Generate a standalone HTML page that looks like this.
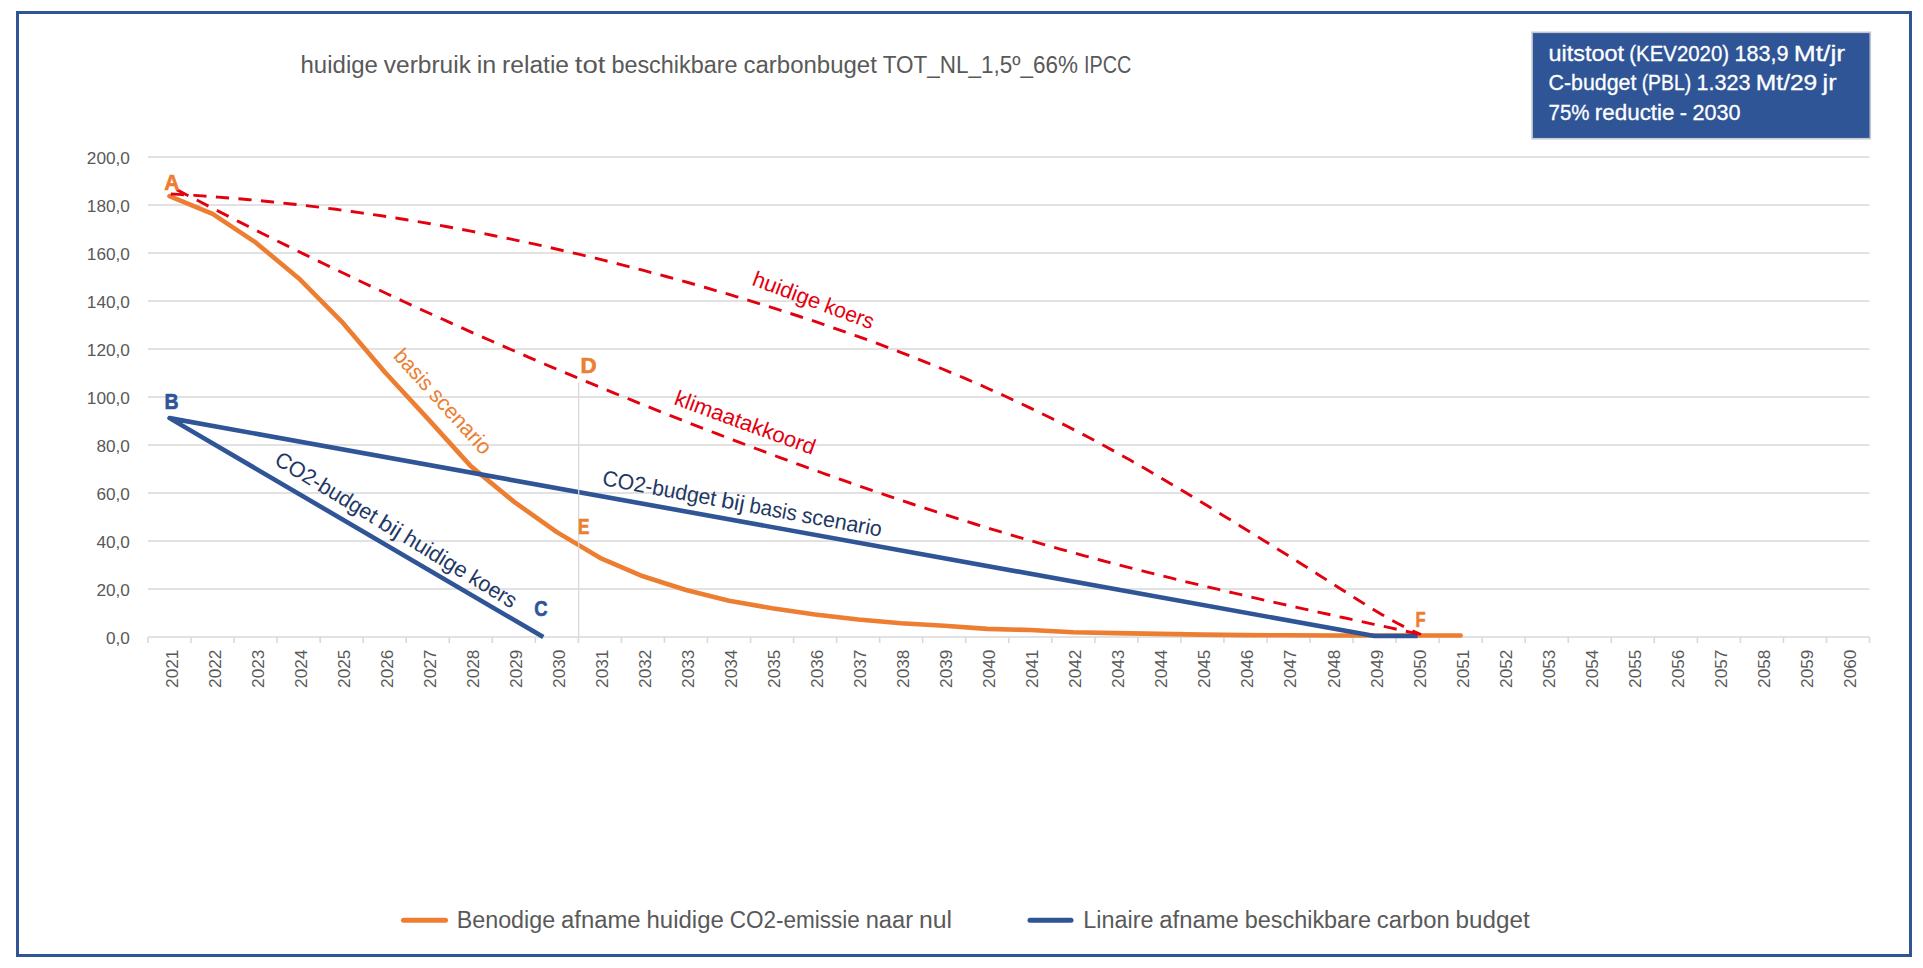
<!DOCTYPE html>
<html lang="nl"><head><meta charset="utf-8"><title>huidige verbruik in relatie tot beschikbare carbonbuget</title>
<style>
html,body{margin:0;padding:0;background:#fff;}
body{width:1923px;height:968px;overflow:hidden;font-family:"Liberation Sans", sans-serif;}
svg{display:block;}
svg text{font-family:"Liberation Sans", sans-serif;}
</style></head><body>
<svg width="1923" height="968" viewBox="0 0 1923 968">
<rect x="0" y="0" width="1923" height="968" fill="#ffffff"/>
<rect x="17.5" y="12.5" width="1893" height="943" fill="#ffffff" stroke="#2F5597" stroke-width="3"/>

<g stroke="#D9D9D9" stroke-width="1.6" fill="none">
<line x1="148.0" y1="637.0" x2="1869.5" y2="637.0"/>
<line x1="148.0" y1="589.0" x2="1869.5" y2="589.0"/>
<line x1="148.0" y1="541.0" x2="1869.5" y2="541.0"/>
<line x1="148.0" y1="493.0" x2="1869.5" y2="493.0"/>
<line x1="148.0" y1="445.0" x2="1869.5" y2="445.0"/>
<line x1="148.0" y1="397.0" x2="1869.5" y2="397.0"/>
<line x1="148.0" y1="349.0" x2="1869.5" y2="349.0"/>
<line x1="148.0" y1="301.0" x2="1869.5" y2="301.0"/>
<line x1="148.0" y1="253.0" x2="1869.5" y2="253.0"/>
<line x1="148.0" y1="205.0" x2="1869.5" y2="205.0"/>
<line x1="148.0" y1="157.0" x2="1869.5" y2="157.0"/>
<line x1="148.00" y1="637.0" x2="148.00" y2="643.0"/>
<line x1="191.04" y1="637.0" x2="191.04" y2="643.0"/>
<line x1="234.07" y1="637.0" x2="234.07" y2="643.0"/>
<line x1="277.11" y1="637.0" x2="277.11" y2="643.0"/>
<line x1="320.15" y1="637.0" x2="320.15" y2="643.0"/>
<line x1="363.19" y1="637.0" x2="363.19" y2="643.0"/>
<line x1="406.23" y1="637.0" x2="406.23" y2="643.0"/>
<line x1="449.26" y1="637.0" x2="449.26" y2="643.0"/>
<line x1="492.30" y1="637.0" x2="492.30" y2="643.0"/>
<line x1="535.34" y1="637.0" x2="535.34" y2="643.0"/>
<line x1="578.38" y1="637.0" x2="578.38" y2="643.0"/>
<line x1="621.41" y1="637.0" x2="621.41" y2="643.0"/>
<line x1="664.45" y1="637.0" x2="664.45" y2="643.0"/>
<line x1="707.49" y1="637.0" x2="707.49" y2="643.0"/>
<line x1="750.52" y1="637.0" x2="750.52" y2="643.0"/>
<line x1="793.56" y1="637.0" x2="793.56" y2="643.0"/>
<line x1="836.60" y1="637.0" x2="836.60" y2="643.0"/>
<line x1="879.64" y1="637.0" x2="879.64" y2="643.0"/>
<line x1="922.68" y1="637.0" x2="922.68" y2="643.0"/>
<line x1="965.71" y1="637.0" x2="965.71" y2="643.0"/>
<line x1="1008.75" y1="637.0" x2="1008.75" y2="643.0"/>
<line x1="1051.79" y1="637.0" x2="1051.79" y2="643.0"/>
<line x1="1094.83" y1="637.0" x2="1094.83" y2="643.0"/>
<line x1="1137.86" y1="637.0" x2="1137.86" y2="643.0"/>
<line x1="1180.90" y1="637.0" x2="1180.90" y2="643.0"/>
<line x1="1223.94" y1="637.0" x2="1223.94" y2="643.0"/>
<line x1="1266.98" y1="637.0" x2="1266.98" y2="643.0"/>
<line x1="1310.01" y1="637.0" x2="1310.01" y2="643.0"/>
<line x1="1353.05" y1="637.0" x2="1353.05" y2="643.0"/>
<line x1="1396.09" y1="637.0" x2="1396.09" y2="643.0"/>
<line x1="1439.12" y1="637.0" x2="1439.12" y2="643.0"/>
<line x1="1482.16" y1="637.0" x2="1482.16" y2="643.0"/>
<line x1="1525.20" y1="637.0" x2="1525.20" y2="643.0"/>
<line x1="1568.24" y1="637.0" x2="1568.24" y2="643.0"/>
<line x1="1611.28" y1="637.0" x2="1611.28" y2="643.0"/>
<line x1="1654.31" y1="637.0" x2="1654.31" y2="643.0"/>
<line x1="1697.35" y1="637.0" x2="1697.35" y2="643.0"/>
<line x1="1740.39" y1="637.0" x2="1740.39" y2="643.0"/>
<line x1="1783.42" y1="637.0" x2="1783.42" y2="643.0"/>
<line x1="1826.46" y1="637.0" x2="1826.46" y2="643.0"/>
<line x1="1869.50" y1="637.0" x2="1869.50" y2="643.0"/>
</g>
<text x="106.03" y="643.8" fill="#595959" font-size="17.01" textLength="23.87" lengthAdjust="spacingAndGlyphs">0,0</text>
<text x="96.45" y="595.8" fill="#595959" font-size="17.01" textLength="33.45" lengthAdjust="spacingAndGlyphs">20,0</text>
<text x="96.45" y="547.8" fill="#595959" font-size="17.01" textLength="33.45" lengthAdjust="spacingAndGlyphs">40,0</text>
<text x="96.45" y="499.8" fill="#595959" font-size="17.01" textLength="33.45" lengthAdjust="spacingAndGlyphs">60,0</text>
<text x="96.45" y="451.8" fill="#595959" font-size="17.01" textLength="33.45" lengthAdjust="spacingAndGlyphs">80,0</text>
<text x="86.87" y="403.8" fill="#595959" font-size="17.01" textLength="43.03" lengthAdjust="spacingAndGlyphs">100,0</text>
<text x="86.87" y="355.8" fill="#595959" font-size="17.01" textLength="43.03" lengthAdjust="spacingAndGlyphs">120,0</text>
<text x="86.87" y="307.8" fill="#595959" font-size="17.01" textLength="43.03" lengthAdjust="spacingAndGlyphs">140,0</text>
<text x="86.87" y="259.8" fill="#595959" font-size="17.01" textLength="43.03" lengthAdjust="spacingAndGlyphs">160,0</text>
<text x="86.87" y="211.8" fill="#595959" font-size="17.01" textLength="43.03" lengthAdjust="spacingAndGlyphs">180,0</text>
<text x="86.87" y="163.8" fill="#595959" font-size="17.01" textLength="43.03" lengthAdjust="spacingAndGlyphs">200,0</text>
<text transform="translate(177.52,687.92) rotate(-90)" fill="#595959" font-size="17.39" textLength="38.32" lengthAdjust="spacingAndGlyphs">2021</text>
<text transform="translate(220.56,687.92) rotate(-90)" fill="#595959" font-size="17.39" textLength="38.32" lengthAdjust="spacingAndGlyphs">2022</text>
<text transform="translate(263.59,687.92) rotate(-90)" fill="#595959" font-size="17.39" textLength="38.32" lengthAdjust="spacingAndGlyphs">2023</text>
<text transform="translate(306.63,687.92) rotate(-90)" fill="#595959" font-size="17.39" textLength="38.32" lengthAdjust="spacingAndGlyphs">2024</text>
<text transform="translate(349.67,687.92) rotate(-90)" fill="#595959" font-size="17.39" textLength="38.32" lengthAdjust="spacingAndGlyphs">2025</text>
<text transform="translate(392.71,687.92) rotate(-90)" fill="#595959" font-size="17.39" textLength="38.32" lengthAdjust="spacingAndGlyphs">2026</text>
<text transform="translate(435.74,687.92) rotate(-90)" fill="#595959" font-size="17.39" textLength="38.32" lengthAdjust="spacingAndGlyphs">2027</text>
<text transform="translate(478.78,687.92) rotate(-90)" fill="#595959" font-size="17.39" textLength="38.32" lengthAdjust="spacingAndGlyphs">2028</text>
<text transform="translate(521.82,687.92) rotate(-90)" fill="#595959" font-size="17.39" textLength="38.32" lengthAdjust="spacingAndGlyphs">2029</text>
<text transform="translate(564.86,687.92) rotate(-90)" fill="#595959" font-size="17.39" textLength="38.32" lengthAdjust="spacingAndGlyphs">2030</text>
<text transform="translate(607.89,687.92) rotate(-90)" fill="#595959" font-size="17.39" textLength="38.32" lengthAdjust="spacingAndGlyphs">2031</text>
<text transform="translate(650.93,687.92) rotate(-90)" fill="#595959" font-size="17.39" textLength="38.32" lengthAdjust="spacingAndGlyphs">2032</text>
<text transform="translate(693.97,687.92) rotate(-90)" fill="#595959" font-size="17.39" textLength="38.32" lengthAdjust="spacingAndGlyphs">2033</text>
<text transform="translate(737.01,687.92) rotate(-90)" fill="#595959" font-size="17.39" textLength="38.32" lengthAdjust="spacingAndGlyphs">2034</text>
<text transform="translate(780.04,687.92) rotate(-90)" fill="#595959" font-size="17.39" textLength="38.32" lengthAdjust="spacingAndGlyphs">2035</text>
<text transform="translate(823.08,687.92) rotate(-90)" fill="#595959" font-size="17.39" textLength="38.32" lengthAdjust="spacingAndGlyphs">2036</text>
<text transform="translate(866.12,687.92) rotate(-90)" fill="#595959" font-size="17.39" textLength="38.32" lengthAdjust="spacingAndGlyphs">2037</text>
<text transform="translate(909.16,687.92) rotate(-90)" fill="#595959" font-size="17.39" textLength="38.32" lengthAdjust="spacingAndGlyphs">2038</text>
<text transform="translate(952.19,687.92) rotate(-90)" fill="#595959" font-size="17.39" textLength="38.32" lengthAdjust="spacingAndGlyphs">2039</text>
<text transform="translate(995.23,687.92) rotate(-90)" fill="#595959" font-size="17.39" textLength="38.32" lengthAdjust="spacingAndGlyphs">2040</text>
<text transform="translate(1038.27,687.92) rotate(-90)" fill="#595959" font-size="17.39" textLength="38.32" lengthAdjust="spacingAndGlyphs">2041</text>
<text transform="translate(1081.31,687.92) rotate(-90)" fill="#595959" font-size="17.39" textLength="38.32" lengthAdjust="spacingAndGlyphs">2042</text>
<text transform="translate(1124.34,687.92) rotate(-90)" fill="#595959" font-size="17.39" textLength="38.32" lengthAdjust="spacingAndGlyphs">2043</text>
<text transform="translate(1167.38,687.92) rotate(-90)" fill="#595959" font-size="17.39" textLength="38.32" lengthAdjust="spacingAndGlyphs">2044</text>
<text transform="translate(1210.42,687.92) rotate(-90)" fill="#595959" font-size="17.39" textLength="38.32" lengthAdjust="spacingAndGlyphs">2045</text>
<text transform="translate(1253.46,687.92) rotate(-90)" fill="#595959" font-size="17.39" textLength="38.32" lengthAdjust="spacingAndGlyphs">2046</text>
<text transform="translate(1296.49,687.92) rotate(-90)" fill="#595959" font-size="17.39" textLength="38.32" lengthAdjust="spacingAndGlyphs">2047</text>
<text transform="translate(1339.53,687.92) rotate(-90)" fill="#595959" font-size="17.39" textLength="38.32" lengthAdjust="spacingAndGlyphs">2048</text>
<text transform="translate(1382.57,687.92) rotate(-90)" fill="#595959" font-size="17.39" textLength="38.32" lengthAdjust="spacingAndGlyphs">2049</text>
<text transform="translate(1425.61,687.92) rotate(-90)" fill="#595959" font-size="17.39" textLength="38.32" lengthAdjust="spacingAndGlyphs">2050</text>
<text transform="translate(1468.64,687.92) rotate(-90)" fill="#595959" font-size="17.39" textLength="38.32" lengthAdjust="spacingAndGlyphs">2051</text>
<text transform="translate(1511.68,687.92) rotate(-90)" fill="#595959" font-size="17.39" textLength="38.32" lengthAdjust="spacingAndGlyphs">2052</text>
<text transform="translate(1554.72,687.92) rotate(-90)" fill="#595959" font-size="17.39" textLength="38.32" lengthAdjust="spacingAndGlyphs">2053</text>
<text transform="translate(1597.76,687.92) rotate(-90)" fill="#595959" font-size="17.39" textLength="38.32" lengthAdjust="spacingAndGlyphs">2054</text>
<text transform="translate(1640.79,687.92) rotate(-90)" fill="#595959" font-size="17.39" textLength="38.32" lengthAdjust="spacingAndGlyphs">2055</text>
<text transform="translate(1683.83,687.92) rotate(-90)" fill="#595959" font-size="17.39" textLength="38.32" lengthAdjust="spacingAndGlyphs">2056</text>
<text transform="translate(1726.87,687.92) rotate(-90)" fill="#595959" font-size="17.39" textLength="38.32" lengthAdjust="spacingAndGlyphs">2057</text>
<text transform="translate(1769.91,687.92) rotate(-90)" fill="#595959" font-size="17.39" textLength="38.32" lengthAdjust="spacingAndGlyphs">2058</text>
<text transform="translate(1812.94,687.92) rotate(-90)" fill="#595959" font-size="17.39" textLength="38.32" lengthAdjust="spacingAndGlyphs">2059</text>
<text transform="translate(1855.98,687.92) rotate(-90)" fill="#595959" font-size="17.39" textLength="38.32" lengthAdjust="spacingAndGlyphs">2060</text>
<polyline points="169.52,196.12 212.56,213.88 255.59,242.44 298.63,278.20 341.67,321.52 384.71,372.04 427.74,418.60 470.78,466.12 513.82,501.64 556.86,532.12 599.89,557.80 642.93,576.28 685.97,589.96 729.01,600.76 772.04,608.20 815.08,614.44 858.12,619.48 901.16,623.32 944.19,625.72 987.23,628.84 1030.27,630.04 1073.31,632.20 1116.34,633.16 1159.38,633.88 1202.42,634.60 1245.46,635.08 1288.49,635.32 1331.53,635.56 1374.57,635.56 1417.61,635.56 1460.64,635.56" fill="none" stroke="#ED7D31" stroke-width="4.6" stroke-linejoin="round" stroke-linecap="round"/>
<polyline points="543.3,637.1 169.52,418.12 1374.57,636.04 1417.61,636.04" fill="none" stroke="#2F5597" stroke-width="4.6" stroke-linejoin="round" stroke-linecap="butt"/>
<path d="M170.8,194.0 L178.7,194.4 L186.5,194.9 L194.4,195.4 L202.3,195.9 L210.1,196.5 L218.0,197.1 L225.8,197.7 L233.7,198.3 L241.6,199.0 L249.4,199.7 L257.3,200.4 L265.2,201.2 L273.0,202.0 L280.9,202.8 L288.7,203.7 L296.6,204.5 L304.5,205.4 L312.3,206.4 L320.2,207.3 L328.1,208.3 L335.9,209.3 L343.8,210.4 L351.6,211.5 L359.5,212.6 L367.4,213.7 L375.2,214.9 L383.1,216.0 L391.0,217.2 L398.8,218.5 L406.7,219.8 L414.5,221.1 L422.4,222.4 L430.3,223.7 L438.1,225.1 L446.0,226.5 L453.9,227.9 L461.7,229.4 L469.6,230.9 L477.5,232.4 L485.3,233.9 L493.2,235.5 L501.0,237.1 L508.9,238.7 L516.8,240.4 L524.6,242.0 L532.5,243.7 L540.4,245.4 L548.2,247.2 L556.1,249.0 L563.9,250.8 L571.8,252.6 L579.7,254.4 L587.5,256.3 L595.4,258.2 L603.3,260.2 L611.1,262.1 L619.0,264.1 L626.8,266.1 L634.7,268.1 L642.6,270.2 L650.4,272.3 L658.3,274.4 L666.2,276.5 L674.0,278.7 L681.9,280.8 L689.8,283.0 L697.6,285.3 L705.5,287.5 L713.3,289.8 L721.2,292.1 L729.1,294.4 L736.9,296.8 L744.8,299.2 L752.7,301.6 L760.5,304.0 L768.4,306.4 L776.2,308.9 L784.1,311.4 L792.0,314.0 L799.8,316.5 L807.7,319.1 L815.6,321.7 L823.4,324.4 L831.3,327.1 L839.1,329.8 L847.0,332.6 L854.9,335.4 L862.7,338.2 L870.6,341.0 L878.5,343.9 L886.3,346.9 L894.2,349.8 L902.0,352.9 L909.9,355.9 L917.8,359.0 L925.6,362.1 L933.5,365.3 L941.4,368.5 L949.2,371.8 L957.1,375.1 L965.0,378.4 L972.8,381.8 L980.7,385.2 L988.5,388.7 L996.4,392.2 L1004.3,395.8 L1012.1,399.5 L1020.0,403.1 L1027.9,406.9 L1035.7,410.6 L1043.6,414.5 L1051.4,418.3 L1059.3,422.3 L1067.2,426.3 L1075.0,430.3 L1082.9,434.4 L1090.8,438.5 L1098.6,442.8 L1106.5,447.0 L1114.3,451.3 L1122.2,455.7 L1130.1,460.1 L1137.9,464.6 L1145.8,469.1 L1153.7,473.7 L1161.5,478.3 L1169.4,483.0 L1177.3,487.6 L1185.1,492.3 L1193.0,497.1 L1200.8,501.8 L1208.7,506.6 L1216.6,511.4 L1224.4,516.2 L1232.3,521.0 L1240.2,525.9 L1248.0,530.7 L1255.9,535.6 L1263.7,540.4 L1271.6,545.3 L1279.5,550.2 L1287.3,555.1 L1295.2,560.0 L1303.1,564.9 L1310.9,569.9 L1318.8,574.9 L1326.6,579.9 L1334.5,584.9 L1342.4,590.0 L1350.2,595.0 L1358.1,600.0 L1366.0,604.9 L1373.8,609.7 L1381.7,614.4 L1389.5,618.9 L1397.4,623.2 L1405.3,627.3 L1413.1,631.1 L1421.0,634.5" fill="none" stroke="#E3000F" stroke-width="2.9" stroke-dasharray="13.2 9.4"/>
<path d="M176.7,189.6 L184.5,193.7 L192.4,197.8 L200.2,201.8 L208.0,205.9 L215.8,209.9 L223.7,213.9 L231.5,217.9 L239.3,221.9 L247.1,225.8 L255.0,229.8 L262.8,233.7 L270.6,237.6 L278.4,241.5 L286.3,245.4 L294.1,249.2 L301.9,253.1 L309.7,256.9 L317.6,260.7 L325.4,264.5 L333.2,268.3 L341.0,272.0 L348.9,275.8 L356.7,279.5 L364.5,283.2 L372.3,286.9 L380.2,290.5 L388.0,294.2 L395.8,297.8 L403.6,301.5 L411.5,305.1 L419.3,308.7 L427.1,312.2 L435.0,315.8 L442.8,319.3 L450.6,322.9 L458.4,326.4 L466.3,329.9 L474.1,333.4 L481.9,336.8 L489.7,340.3 L497.6,343.7 L505.4,347.1 L513.2,350.5 L521.0,353.9 L528.9,357.3 L536.7,360.6 L544.5,364.0 L552.3,367.3 L560.2,370.6 L568.0,373.9 L575.8,377.2 L583.6,380.4 L591.5,383.7 L599.3,386.9 L607.1,390.1 L614.9,393.4 L622.8,396.5 L630.6,399.7 L638.4,402.9 L646.2,406.0 L654.1,409.1 L661.9,412.3 L669.7,415.4 L677.6,418.4 L685.4,421.5 L693.2,424.6 L701.0,427.6 L708.9,430.6 L716.7,433.7 L724.5,436.7 L732.3,439.6 L740.2,442.6 L748.0,445.6 L755.8,448.5 L763.6,451.4 L771.5,454.4 L779.3,457.3 L787.1,460.1 L794.9,463.0 L802.8,465.9 L810.6,468.7 L818.4,471.5 L826.2,474.3 L834.1,477.1 L841.9,479.9 L849.7,482.7 L857.5,485.4 L865.4,488.1 L873.2,490.8 L881.0,493.5 L888.8,496.1 L896.7,498.8 L904.5,501.4 L912.3,504.0 L920.1,506.6 L928.0,509.1 L935.8,511.7 L943.6,514.2 L951.5,516.7 L959.3,519.2 L967.1,521.6 L974.9,524.0 L982.8,526.5 L990.6,528.8 L998.4,531.2 L1006.2,533.5 L1014.1,535.9 L1021.9,538.2 L1029.7,540.4 L1037.5,542.7 L1045.4,544.9 L1053.2,547.2 L1061.0,549.3 L1068.8,551.5 L1076.7,553.7 L1084.5,555.8 L1092.3,557.9 L1100.1,560.0 L1108.0,562.1 L1115.8,564.1 L1123.6,566.1 L1131.4,568.1 L1139.3,570.1 L1147.1,572.1 L1154.9,574.1 L1162.7,576.0 L1170.6,577.9 L1178.4,579.9 L1186.2,581.8 L1194.1,583.6 L1201.9,585.5 L1209.7,587.4 L1217.5,589.2 L1225.4,591.1 L1233.2,592.9 L1241.0,594.7 L1248.8,596.5 L1256.7,598.3 L1264.5,600.1 L1272.3,601.8 L1280.1,603.6 L1288.0,605.4 L1295.8,607.1 L1303.6,608.8 L1311.4,610.6 L1319.3,612.3 L1327.1,614.0 L1334.9,615.8 L1342.7,617.5 L1350.6,619.2 L1358.4,620.9 L1366.2,622.6 L1374.0,624.3 L1381.9,626.0 L1389.7,627.7 L1397.5,629.4 L1405.3,631.1 L1413.2,632.8 L1421.0,634.5" fill="none" stroke="#E3000F" stroke-width="2.9" stroke-dasharray="13.2 9.4"/>
<line x1="578.7" y1="382.3" x2="578.7" y2="637.0" stroke="#D6D6D6" stroke-width="1.2"/>
<text transform="translate(164.17,189.8) scale(0.989,1)" fill="#ED7D31" stroke="#ED7D31" stroke-width="0.6" font-size="21.4" font-weight="bold">A</text>
<text transform="translate(164.49,409.3) scale(0.912,1)" fill="#2F5597" stroke="#2F5597" stroke-width="0.6" font-size="21.4" font-weight="bold">B</text>
<text transform="translate(534.14,615.6) scale(0.865,1)" fill="#2F5597" stroke="#2F5597" stroke-width="0.6" font-size="21.4" font-weight="bold">C</text>
<text transform="translate(580.61,373.2) scale(1.044,1)" fill="#ED7D31" stroke="#ED7D31" stroke-width="0.6" font-size="21.4" font-weight="bold">D</text>
<text transform="translate(577.90,533.8) scale(0.804,1)" fill="#ED7D31" stroke="#ED7D31" stroke-width="0.6" font-size="21.4" font-weight="bold">E</text>
<text transform="translate(1415.49,626.5) scale(0.774,1)" fill="#ED7D31" stroke="#ED7D31" stroke-width="0.6" font-size="21.4" font-weight="bold">F</text>
<text transform="translate(392.4,356.7) rotate(47.8)" fill="#ED7D31" font-size="21.80"><tspan x="0.00" textLength="47.78" lengthAdjust="spacingAndGlyphs">basis</tspan> <tspan x="53.14" textLength="81.09" lengthAdjust="spacingAndGlyphs">scenario</tspan></text>
<text transform="translate(273.2,463.4) rotate(31.4)" fill="#1F3864" font-size="21.93"><tspan x="0.00" textLength="116.00" lengthAdjust="spacingAndGlyphs">CO2-budget</tspan> <tspan x="121.39" textLength="23.70" lengthAdjust="spacingAndGlyphs">bij</tspan> <tspan x="150.48" textLength="71.41" lengthAdjust="spacingAndGlyphs">huidige</tspan> <tspan x="227.28" textLength="51.70" lengthAdjust="spacingAndGlyphs">koers</tspan></text>
<text transform="translate(601.5,485) rotate(10.5)" fill="#1F3864" font-size="21.80"><tspan x="0.00" textLength="115.31" lengthAdjust="spacingAndGlyphs">CO2-budget</tspan> <tspan x="120.66" textLength="23.56" lengthAdjust="spacingAndGlyphs">bij</tspan> <tspan x="149.58" textLength="47.78" lengthAdjust="spacingAndGlyphs">basis</tspan> <tspan x="202.72" textLength="81.09" lengthAdjust="spacingAndGlyphs">scenario</tspan></text>
<text transform="translate(751.1,284.8) rotate(20.4)" fill="#E3000F" font-size="21.80"><tspan x="0.00" textLength="70.98" lengthAdjust="spacingAndGlyphs">huidige</tspan> <tspan x="76.34" textLength="51.39" lengthAdjust="spacingAndGlyphs">koers</tspan></text>
<text transform="translate(673,404) rotate(20.1)" fill="#E3000F" font-size="21.80"><tspan x="0.00" textLength="148.21" lengthAdjust="spacingAndGlyphs">klimaatakkoord</tspan></text>
<text transform="translate(300.5,72.9)" fill="#595959" font-size="23.78"><tspan x="0.00" textLength="77.42" lengthAdjust="spacingAndGlyphs">huidige</tspan> <tspan x="83.27" textLength="87.16" lengthAdjust="spacingAndGlyphs">verbruik</tspan> <tspan x="176.27" textLength="19.51" lengthAdjust="spacingAndGlyphs">in</tspan> <tspan x="201.63" textLength="66.87" lengthAdjust="spacingAndGlyphs">relatie</tspan> <tspan x="274.34" textLength="30.70" lengthAdjust="spacingAndGlyphs">tot</tspan> <tspan x="310.88" textLength="126.25" lengthAdjust="spacingAndGlyphs">beschikbare</tspan> <tspan x="442.97" textLength="133.40" lengthAdjust="spacingAndGlyphs">carbonbuget</tspan> <tspan x="582.22" textLength="195.32" lengthAdjust="spacingAndGlyphs">TOT_NL_1,5º_66%</tspan> <tspan x="783.38" textLength="47.43" lengthAdjust="spacingAndGlyphs">IPCC</tspan></text>
<rect x="1532.1" y="32.3" width="338.2" height="106.4" fill="#2F5597" stroke="#C3C8D0" stroke-width="1.6"/>
<text transform="translate(1548.5,61.2)" fill="#ffffff" font-size="21.80" stroke="#ffffff" stroke-width="0.3"><tspan x="0.00" textLength="75.47" lengthAdjust="spacingAndGlyphs">uitstoot</tspan> <tspan x="80.83" textLength="99.75" lengthAdjust="spacingAndGlyphs">(KEV2020)</tspan> <tspan x="185.94" textLength="53.96" lengthAdjust="spacingAndGlyphs">183,9</tspan> <tspan x="245.27" textLength="51.29" lengthAdjust="spacingAndGlyphs">Mt/jr</tspan></text>
<text transform="translate(1548.5,90.2)" fill="#ffffff" font-size="21.80" stroke="#ffffff" stroke-width="0.3"><tspan x="0.00" textLength="87.81" lengthAdjust="spacingAndGlyphs">C-budget</tspan> <tspan x="93.17" textLength="49.47" lengthAdjust="spacingAndGlyphs">(PBL)</tspan> <tspan x="148.00" textLength="54.03" lengthAdjust="spacingAndGlyphs">1.323</tspan> <tspan x="207.39" textLength="61.38" lengthAdjust="spacingAndGlyphs">Mt/29</tspan> <tspan x="274.13" textLength="13.93" lengthAdjust="spacingAndGlyphs">jr</tspan></text>
<text transform="translate(1548.5,119.5)" fill="#ffffff" font-size="21.80" stroke="#ffffff" stroke-width="0.3"><tspan x="0.00" textLength="40.97" lengthAdjust="spacingAndGlyphs">75%</tspan> <tspan x="46.32" textLength="79.66" lengthAdjust="spacingAndGlyphs">reductie</tspan> <tspan x="131.35" textLength="7.26" lengthAdjust="spacingAndGlyphs">-</tspan> <tspan x="143.96" textLength="48.05" lengthAdjust="spacingAndGlyphs">2030</tspan></text>
<line x1="403.5" y1="920.3" x2="445.5" y2="920.3" stroke="#ED7D31" stroke-width="5" stroke-linecap="round"/>
<text transform="translate(456.7,927.7)" fill="#595959" font-size="23.78"><tspan x="0.00" textLength="98.47" lengthAdjust="spacingAndGlyphs">Benodige</tspan> <tspan x="104.31" textLength="79.59" lengthAdjust="spacingAndGlyphs">afname</tspan> <tspan x="189.75" textLength="77.42" lengthAdjust="spacingAndGlyphs">huidige</tspan> <tspan x="273.02" textLength="130.15" lengthAdjust="spacingAndGlyphs">CO2-emissie</tspan> <tspan x="409.01" textLength="47.36" lengthAdjust="spacingAndGlyphs">naar</tspan> <tspan x="462.21" textLength="33.10" lengthAdjust="spacingAndGlyphs">nul</tspan></text>
<line x1="1030" y1="920.3" x2="1071" y2="920.3" stroke="#2F5597" stroke-width="5" stroke-linecap="round"/>
<text transform="translate(1083.2,927.7)" fill="#595959" font-size="23.78"><tspan x="0.00" textLength="70.23" lengthAdjust="spacingAndGlyphs">Linaire</tspan> <tspan x="76.07" textLength="79.59" lengthAdjust="spacingAndGlyphs">afname</tspan> <tspan x="161.51" textLength="126.25" lengthAdjust="spacingAndGlyphs">beschikbare</tspan> <tspan x="293.60" textLength="72.91" lengthAdjust="spacingAndGlyphs">carbon</tspan> <tspan x="372.35" textLength="74.08" lengthAdjust="spacingAndGlyphs">budget</tspan></text>
</svg></body></html>
